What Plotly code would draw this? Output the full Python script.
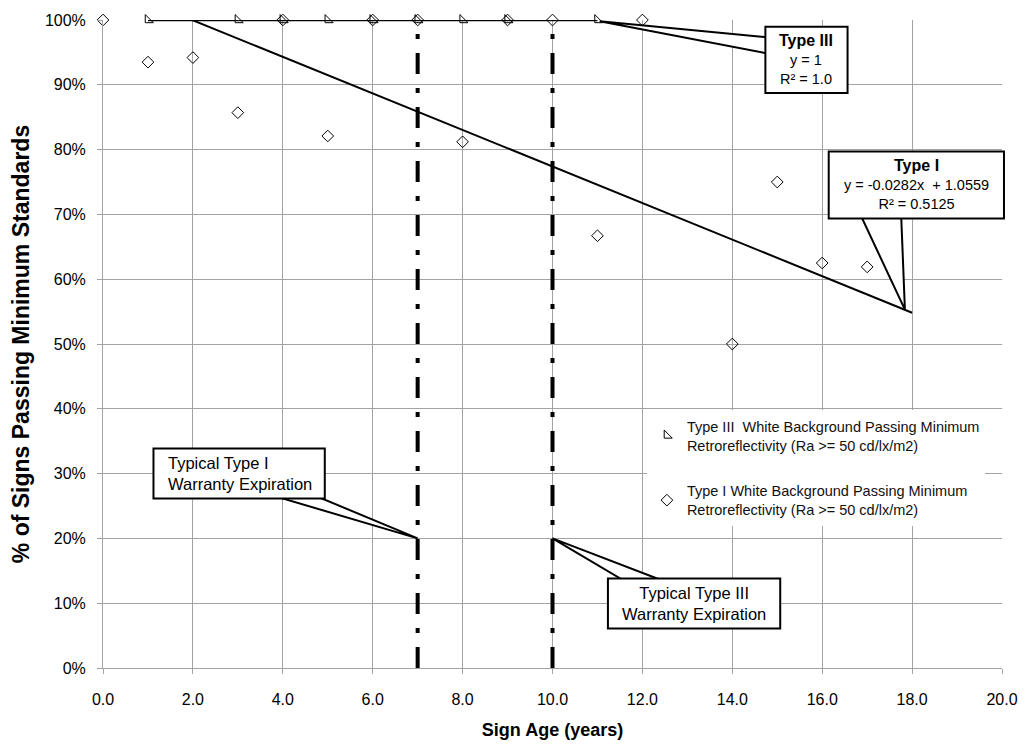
import plotly.graph_objects as go

# ---- data ----
type3_age = [1, 3, 4, 5, 6, 7, 8, 9, 11]
type3_pass = [1.0, 1.0, 1.0, 1.0, 1.0, 1.0, 1.0, 1.0, 1.0]

type1_age = [0, 1, 2, 3, 4, 5, 6, 7, 8, 9, 10, 11, 12, 14, 15, 16, 17]
type1_pass = [1.0, 0.935, 0.942, 0.857, 1.0, 0.821, 1.0, 1.0, 0.812, 1.0, 1.0,
              0.667, 1.0, 0.50, 0.75, 0.625, 0.619]

type3_trend_x = [1, 11]
type3_trend_slope, type3_trend_icpt = 0.0, 1.0
type1_trend_x = [0, 18]
type1_trend_slope, type1_trend_icpt = -0.0282, 1.0559

warranty_type1 = 7
warranty_type3 = 10

x_range = [0, 20]
y_range = [0, 1]
x_ticks = [0, 2, 4, 6, 8, 10, 12, 14, 16, 18, 20]
y_ticks = [0, 0.1, 0.2, 0.3, 0.4, 0.5, 0.6, 0.7, 0.8, 0.9, 1.0]

FONT = "Liberation Sans, Arial, sans-serif"
GRID = "#a3a3a3"


def xp(v):
    return (v - x_range[0]) / (x_range[1] - x_range[0])


def yp(v):
    return (v - y_range[0]) / (y_range[1] - y_range[0])


fig = go.Figure()

# trendlines
fig.add_trace(go.Scatter(
    x=type1_trend_x,
    y=[type1_trend_slope * v + type1_trend_icpt for v in type1_trend_x],
    mode="lines", line=dict(color="black", width=2), showlegend=False,
    hoverinfo="skip"))
fig.add_trace(go.Scatter(
    x=type3_trend_x,
    y=[type3_trend_slope * v + type3_trend_icpt for v in type3_trend_x],
    mode="lines", line=dict(color="black", width=2.5), showlegend=False,
    cliponaxis=False, hoverinfo="skip"))

# warranty lines
for wx in (warranty_type1, warranty_type3):
    fig.add_trace(go.Scatter(
        x=[wx, wx], y=[0, 1], mode="lines",
        line=dict(color="black", width=4, dash="21px,14px,5px,14px"),
        showlegend=False, hoverinfo="skip"))

# data series
fig.add_trace(go.Scatter(
    x=type3_age, y=type3_pass, mode="markers",
    name="Type III  White Background Passing Minimum<br>Retroreflectivity (Ra >= 50 cd/lx/m2)",
    marker=dict(symbol="triangle-sw-open", size=9, color="black",
                line=dict(width=1, color="black")),
    cliponaxis=False, legendgroup="a"))
fig.add_trace(go.Scatter(
    x=type1_age, y=type1_pass, mode="markers",
    name="Type I White Background Passing Minimum<br>Retroreflectivity (Ra >= 50 cd/lx/m2)",
    marker=dict(symbol="diamond-open", size=9, color="black",
                line=dict(width=1, color="black")),
    cliponaxis=False, legendgroup="b"))

# ---- callouts: wedge (tip in data units) + box (data units) + text ----
callouts = [
    dict(tip=(11.05, 0.998), base=((14.9, 0.9726), (14.9, 0.9468)),
         box=(14.736, 16.564, 0.8875, 0.9894), align="center", size=14.5,
         text="<span style='font-size:16px'><b>Type III</b></span><br>y = 1<br>R² = 1.0"),
    dict(tip=(17.84, 0.553), base=((16.78, 0.71), (17.75, 0.71)),
         box=(16.145, 20.044, 0.6938, 0.7971), align="center", size=14.5,
         text="<span style='font-size:16px'><b>Type I</b></span><br>y = -0.0282x  + 1.0559<br>R² = 0.5125"),
    dict(tip=(7.0, 0.20), base=((3.35, 0.275), (4.405, 0.275)),
         box=(1.123, 4.934, 0.2614, 0.3389), align="left", size=16.5,
         text="Typical Type I<br>Warranty Expiration"),
    dict(tip=(10.0, 0.20), base=((11.83, 0.125), (12.82, 0.125)),
         box=(11.233, 15.066, 0.0608, 0.1383), align="center", size=16.5,
         text="Typical Type III<br>Warranty Expiration"),
]
for c in callouts:
    t, (b1, b2) = c["tip"], c["base"]
    fig.add_shape(type="path", xref="paper", yref="paper",
                  path=(f"M {xp(t[0])},{yp(t[1])} L {xp(b1[0])},{yp(b1[1])} "
                        f"L {xp(b2[0])},{yp(b2[1])} Z"),
                  fillcolor="white", line=dict(color="black", width=2),
                  layer="above")
    x0, x1, y0, y1 = c["box"]
    fig.add_shape(type="rect", xref="paper", yref="paper",
                  x0=xp(x0), x1=xp(x1), y0=yp(y0), y1=yp(y1),
                  fillcolor="white", line=dict(color="black", width=2),
                  layer="above")
    if c["align"] == "left":
        ax, anchor = xp(x0) + 13 / 908, "left"
    else:
        ax, anchor = xp((x0 + x1) / 2), "center"
    fig.add_annotation(
        x=ax, y=yp((y0 + y1) / 2), xref="paper", yref="paper",
        showarrow=False, text=c["text"], align=c["align"],
        xanchor=anchor, yanchor="middle",
        font=dict(family=FONT, size=c["size"], color="black"))

fig.update_layout(
    width=1030, height=749,
    margin=dict(l=103, r=19, t=19, b=72),
    paper_bgcolor="white", plot_bgcolor="white",
    font=dict(family=FONT, color="black"),
    legend=dict(x=0.605, y=0.398, xanchor="left", yanchor="top",
                bgcolor="white", borderwidth=0, tracegroupgap=24,
                font=dict(family=FONT, size=14.5, color="#111"),
                itemwidth=30),
    xaxis=dict(range=x_range, tickvals=x_ticks, tickformat=".1f",
               showgrid=True, gridcolor=GRID, gridwidth=1,
               showline=True, linecolor=GRID, linewidth=1,
               ticks="outside", ticklen=5, tickcolor=GRID,
               tickfont=dict(family=FONT, size=16, color="black"),
               ticklabelstandoff=12, ticklabeloverflow="allow",
               zeroline=False,
               title=dict(text="<b>Sign Age (years)</b>", standoff=16,
                          font=dict(family=FONT, size=18, color="black"))),
    yaxis=dict(range=y_range, tickvals=y_ticks, tickformat=".0%",
               showgrid=True, gridcolor=GRID, gridwidth=1,
               showline=True, linecolor=GRID, linewidth=1,
               ticks="outside", ticklen=5, tickcolor=GRID,
               tickfont=dict(family=FONT, size=16, color="black"),
               ticklabelstandoff=8, ticklabeloverflow="allow",
               zeroline=False,
               title=dict(text="<b>% of Signs Passing Minimum Standards</b>", standoff=8,
                          font=dict(family=FONT, size=23, color="black"))),
)

fig.write_html("out.html",
               post_script="document.body.style.margin='0';document.body.style.overflow='hidden';")
